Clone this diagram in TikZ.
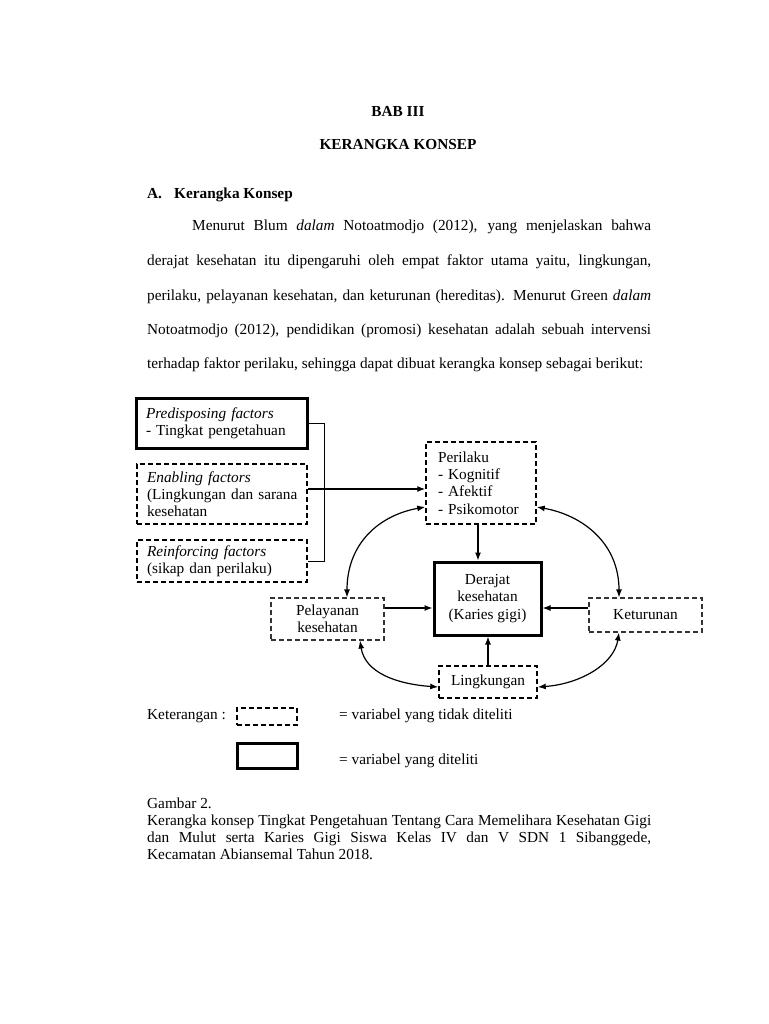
\documentclass[tikz,border=0pt]{standalone}
\usepackage{fontspec}
\setmainfont{Liberation Serif}
\usetikzlibrary{arrows.meta}
\begin{document}
\begin{tikzpicture}[x=1pt,y=-1pt,
  font=\fontsize{15.3pt}{17.3pt}\selectfont,
  txt/.style={inner sep=0pt, anchor=base west},
  ctxt/.style={inner sep=0pt, anchor=base},
  dbox/.style={draw, dash pattern=on 5pt off 3pt, line width=1.5pt, inner ysep=0pt},
  lbox/.style={draw=black!80, dash pattern=on 5pt off 3pt, line width=1.1pt, inner ysep=0pt},
  sbox/.style={draw, line width=3pt, inner ysep=0pt},
  leftbox/.style={align=left, inner xsep=10pt},
  midbox/.style={align=center, inner xsep=0pt},
  arr/.style={-{Latex[length=8pt,width=6pt]}, line width=1.2pt},
  darr/.style={{Latex[length=8pt,width=6pt]}-{Latex[length=8pt,width=6pt]}, line width=1.2pt},
]
\fill[white] (0,0) rectangle (768,1024);
\useasboundingbox (0,0) rectangle (768,1024);

% headings
\node[ctxt] (bab) at (398,117) {\textbf{BAB III}};
\node[ctxt] (kk) at (398,150) {\textbf{KERANGKA KONSEP}};
\node[txt] (secA) at (147,199) {\textbf{A.}};
\node[txt] (secT) at (174,199) {\textbf{Kerangka Konsep}};

% paragraph
\node[txt] (p1) at (192,230) {\makebox[459pt][s]{Menurut Blum \textit{dalam} Notoatmodjo (2012), yang menjelaskan bahwa}};
\node[txt] (p2) at (147,265) {\makebox[504pt][s]{derajat kesehatan itu dipengaruhi oleh empat faktor utama yaitu, lingkungan,}};
\node[txt] (p3) at (147,300) {\makebox[504pt][s]{perilaku, pelayanan kesehatan, dan keturunan (hereditas). Menurut Green \textit{dalam}}};
\node[txt] (p4) at (147,334) {\makebox[504pt][s]{Notoatmodjo (2012), pendidikan (promosi) kesehatan adalah sebuah intervensi}};
\node[txt] (p5) at (147,368) {terhadap faktor perilaku, sehingga dapat dibuat kerangka konsep sebagai berikut:};

% left factor boxes
\node[sbox, leftbox, minimum width=171pt, minimum height=50pt, text width=151pt] (pred) at (221.5,423)
  {\mbox{\textit{Predisposing factors}}\\\mbox{- Tingkat pengetahuan}};
\node[dbox, leftbox, minimum width=170pt, minimum height=60pt, text width=150pt] (enab) at (222,494)
  {\mbox{\textit{Enabling factors}}\\\mbox{(Lingkungan dan sarana}\\\mbox{kesehatan}};
\node[dbox, leftbox, minimum width=170pt, minimum height=42pt, text width=150pt] (reinf) at (222,561)
  {\mbox{\textit{Reinforcing factors}}\\\mbox{(sikap dan perilaku)}};

% main boxes
\node[dbox, leftbox, inner xsep=12pt, minimum width=110pt, minimum height=82pt, text width=86pt] (peril) at (481,483)
  {\mbox{Perilaku}\\\mbox{- Kognitif}\\\mbox{- Afektif}\\\mbox{- Psikomotor}};
\node[sbox, midbox, minimum width=107pt, minimum height=73pt] (deraj) at (487.5,598.5)
  {Derajat\\kesehatan\\(Karies gigi)};
\node[lbox, midbox, minimum width=113pt, minimum height=42pt] (pelay) at (327.5,619)
  {Pelayanan\\kesehatan};
\node[lbox, midbox, minimum width=113pt, minimum height=34pt] (ketur) at (645.5,615)
  {Keturunan};
\node[dbox, midbox, minimum width=98pt, minimum height=32pt] (lingk) at (488,682)
  {Lingkungan};

% bracket and arrows
\draw[line width=1pt] (pred.east) -- ++(16,0) coordinate (bk) |- (reinf.east);
\draw[arr] ([yshift=5pt]enab.east) -- ([yshift=5pt]enab.east -| peril.west);
\draw[arr] ([xshift=-3pt]peril.south) -- ([xshift=-3pt]peril.south |- deraj.north);
\draw[arr] ([yshift=11pt]pelay.east) -- ([yshift=11pt]pelay.east -| deraj.west);
\draw[arr] ([yshift=7pt]ketur.west) -- ([yshift=7pt]ketur.west -| deraj.east);
\draw[arr] (lingk.north) -- (lingk.north |- deraj.south);

% curved double arrows
\draw[darr] ([xshift=19.5pt]pelay.north) .. controls +(0,-55) and +(-45,8) .. ([yshift=-24pt]peril.west);
\draw[darr] ([yshift=-24pt]peril.east) .. controls +(45,8) and +(0,-55) .. ([xshift=-26.5pt]ketur.north);
\draw[darr] ([xshift=32.5pt]pelay.south) .. controls +(5,32) and +(-42,-3) .. ([yshift=-5pt]lingk.west);
\draw[darr] ([yshift=-5pt]lingk.east) .. controls +(42,-3) and +(-5,32) .. ([xshift=-26.5pt]ketur.south);

% legend
\node[txt] (ket) at (147,719) {Keterangan :};
\node[dbox, minimum width=60pt, minimum height=17pt, inner sep=0pt] (leg1) at (267,716.5) {};
\node[txt] (leg1t) at (339,719) {= variabel yang tidak diteliti};
\node[sbox, minimum width=60pt, minimum height=25pt, inner sep=0pt] (leg2) at (267,755.5) {};
\node[txt] (leg2t) at (339,764) {= variabel yang diteliti};

% caption
\node[txt] (c0) at (147,808) {Gambar 2.};
\node[txt] (c1) at (147,825) {\makebox[504pt][s]{Kerangka konsep Tingkat Pengetahuan Tentang Cara Memelihara Kesehatan Gigi}};
\node[txt] (c2) at (147,842) {\makebox[504pt][s]{dan Mulut serta Karies Gigi Siswa Kelas IV dan V SDN 1 Sibanggede,}};
\node[txt] (c3) at (147,859) {Kecamatan Abiansemal Tahun 2018.};
\end{tikzpicture}
\end{document}
